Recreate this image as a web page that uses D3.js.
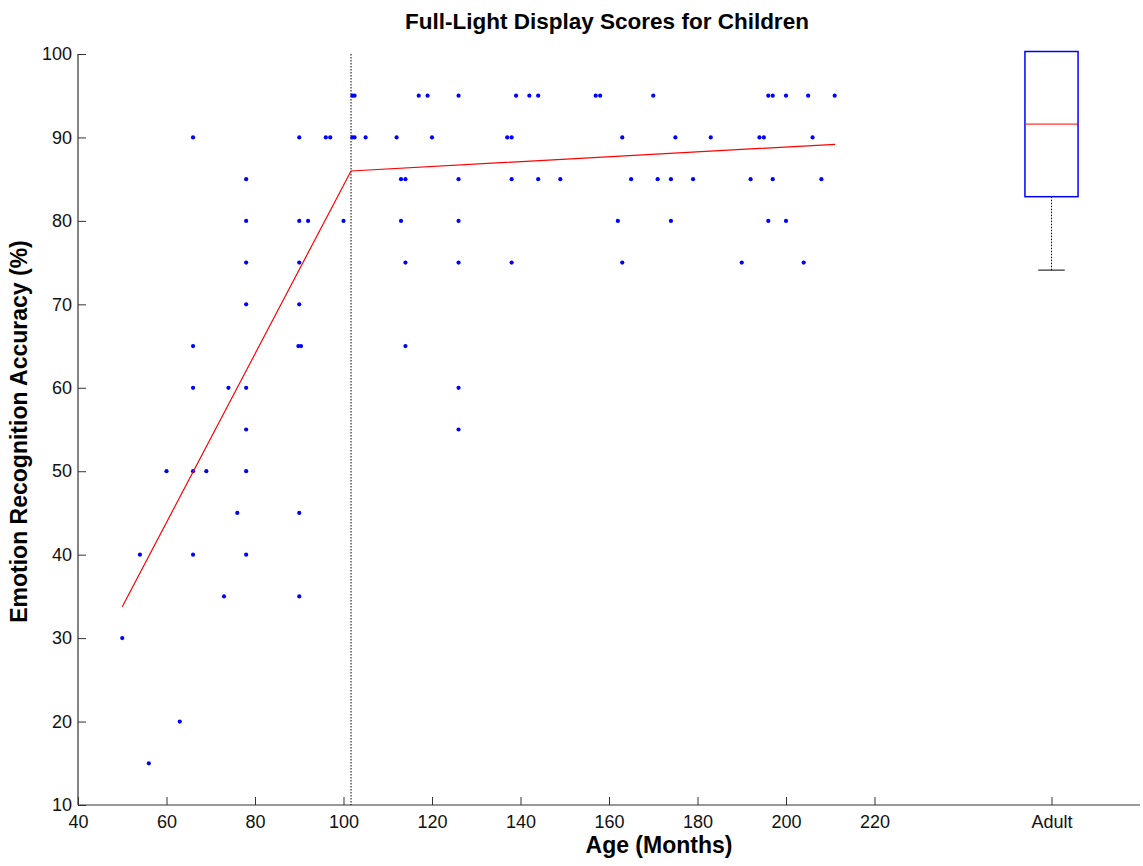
<!DOCTYPE html>
<html>
<head>
<meta charset="utf-8">
<script src="https://cdn.jsdelivr.net/npm/d3@7/dist/d3.min.js"></script>
<style>
  body { margin: 0; background: #fff; }
  svg text { font-family: "Liberation Sans", Arial, sans-serif; }
</style>
</head>
<body>
<div id="chart"></div>
<script>
// scatter points: age in months and score (%)
const ages = [
  102, 102.5, 117, 119, 126, 139, 142, 144, 157, 158, 170, 196, 197, 200, 205, 211,
  66, 90, 96, 97, 102, 102.5, 105, 112, 120, 137, 138, 163, 175, 183, 194, 195, 206,
  78, 113, 114, 126, 138, 144, 149, 165, 171, 174, 179, 192, 197, 208,
  78, 90, 92, 100, 113, 126, 162, 174, 196, 200,
  78, 90, 114, 126, 138, 163, 190, 204,
  78, 90,
  66, 89.8, 90.4, 114,
  66, 74, 78, 126,
  78, 126,
  60, 66, 69, 78,
  76, 90,
  54, 66, 78,
  73, 90,
  50, 63, 56
];
const scores = [
  95, 95, 95, 95, 95, 95, 95, 95, 95, 95, 95, 95, 95, 95, 95, 95,
  90, 90, 90, 90, 90, 90, 90, 90, 90, 90, 90, 90, 90, 90, 90, 90, 90,
  85, 85, 85, 85, 85, 85, 85, 85, 85, 85, 85, 85, 85, 85,
  80, 80, 80, 80, 80, 80, 80, 80, 80, 80,
  75, 75, 75, 75, 75, 75, 75, 75,
  70, 70,
  65, 65, 65, 65,
  60, 60, 60, 60,
  55, 55,
  50, 50, 50, 50,
  45, 45,
  40, 40, 40,
  35, 35,
  30, 20, 15
];

// piecewise linear fit and breakpoint
const fitAges = [50, 101.7, 211.1];
const fitScores = [33.76, 85.98, 89.18];
const breakAge = 101.7;

// adult boxplot (placed at x = 260 on the age axis)
const boxPos = [260];
const boxLabels = ["Adult"];
const boxLow = [74.1];
const boxQ1 = [82.9];
const boxMedian = [91.6];
const boxQ3 = [100.3];

const xTicks = [40, 60, 80, 100, 120, 140, 160, 180, 200, 220, 260];
const yTicks = [10, 20, 30, 40, 50, 60, 70, 80, 90, 100];

const width = 1143, height = 866;
const margin = { top: 54, right: 3, bottom: 61, left: 78 };

const svg = d3.select("#chart").append("svg")
  .attr("width", width)
  .attr("height", height);

const x = d3.scaleLinear().domain([40, 280]).range([margin.left, width - margin.right]);
const y = d3.scaleLinear().domain([10, 100]).range([height - margin.bottom, margin.top]);

const axisColor = "#333";

// x axis
const xAxis = svg.append("g")
  .attr("transform", `translate(0,${height - margin.bottom})`)
  .call(d3.axisBottom(x)
    .tickValues(xTicks)
    .tickSize(-8)
    .tickPadding(10)
    .tickFormat((d) => d === 260 ? boxLabels[0] : d));

// y axis
const yAxis = svg.append("g")
  .attr("transform", `translate(${margin.left},0)`)
  .call(d3.axisLeft(y)
    .tickValues(yTicks)
    .tickSize(-8)
    .tickPadding(6));

xAxis.select(".domain").remove();
yAxis.select(".domain").remove();
svg.append("line")
  .attr("x1", margin.left).attr("x2", width - margin.right)
  .attr("y1", y(10)).attr("y2", y(10))
  .attr("stroke", axisColor)
  .attr("stroke-width", 1.2);
svg.append("line")
  .attr("x1", margin.left).attr("x2", margin.left)
  .attr("y1", y(10)).attr("y2", y(100))
  .attr("stroke", axisColor)
  .attr("stroke-width", 1.2);

svg.selectAll(".tick line").attr("stroke", axisColor);
svg.selectAll(".tick text")
  .style("font-size", "18px")
  .attr("fill", "#111");

// breakpoint line
svg.append("line")
  .attr("x1", x(breakAge)).attr("x2", x(breakAge))
  .attr("y1", y(100)).attr("y2", y(10))
  .attr("stroke", "#000")
  .attr("stroke-width", 1)
  .attr("stroke-dasharray", "1.5,1.5");

// dots
svg.append("g")
  .selectAll("circle")
  .data(ages)
  .join("circle")
  .attr("cx", (d) => x(d))
  .attr("cy", (d, i) => y(scores[i]))
  .attr("r", 2.1)
  .attr("fill", "#0000ff");

// fit line
const line = d3.line()
  .x((d) => x(d))
  .y((d, i) => y(fitScores[i]));

svg.append("path")
  .datum(fitAges)
  .attr("d", line)
  .attr("fill", "none")
  .attr("stroke", "#ff0000")
  .attr("stroke-width", 1.2);

// boxplot
const boxHalf = 6, capHalf = 3;
const box = svg.append("g")
  .selectAll("g")
  .data(boxPos)
  .join("g");

box.append("line")
  .attr("x1", (d) => x(d)).attr("x2", (d) => x(d))
  .attr("y1", (d, i) => y(boxQ1[i])).attr("y2", (d, i) => y(boxLow[i]))
  .attr("stroke", "#000")
  .attr("stroke-dasharray", "1.5,1.5");

box.append("line")
  .attr("x1", (d) => x(d - capHalf)).attr("x2", (d) => x(d + capHalf))
  .attr("y1", (d, i) => y(boxLow[i])).attr("y2", (d, i) => y(boxLow[i]))
  .attr("stroke", "#000");

box.append("rect")
  .attr("x", (d) => x(d - boxHalf))
  .attr("width", (d) => x(d + boxHalf) - x(d - boxHalf))
  .attr("y", (d, i) => y(boxQ3[i]))
  .attr("height", (d, i) => y(boxQ1[i]) - y(boxQ3[i]))
  .attr("fill", "none")
  .attr("stroke", "#0000ff")
  .attr("stroke-width", 1.5);

box.append("line")
  .attr("x1", (d) => x(d - boxHalf)).attr("x2", (d) => x(d + boxHalf))
  .attr("y1", (d, i) => y(boxMedian[i])).attr("y2", (d, i) => y(boxMedian[i]))
  .attr("stroke", "#ff0000");

// titles
svg.append("text")
  .attr("x", 607)
  .attr("y", 29)
  .attr("text-anchor", "middle")
  .style("font-size", "22.5px")
  .style("font-weight", "bold")
  .text("Full-Light Display Scores for Children");

svg.append("text")
  .attr("x", 659)
  .attr("y", 853)
  .attr("text-anchor", "middle")
  .style("font-size", "23px")
  .style("font-weight", "bold")
  .text("Age (Months)");

svg.append("text")
  .attr("transform", `translate(27,${(y(10) + y(100)) / 2 + 2}) rotate(-90)`)
  .attr("text-anchor", "middle")
  .style("font-size", "23px")
  .style("font-weight", "bold")
  .text("Emotion Recognition Accuracy (%)");
</script>
</body>
</html>
